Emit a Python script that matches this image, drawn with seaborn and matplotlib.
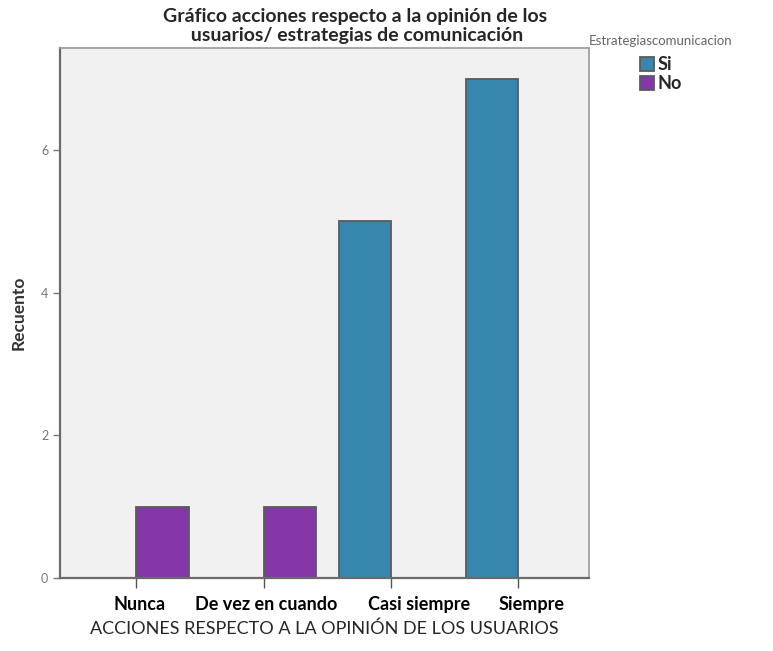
import pandas as pd
import matplotlib.pyplot as plt
import matplotlib.transforms as mtransforms
import seaborn as sns

categorias = ['Nunca', 'De vez en cuando', 'Casi siempre', 'Siempre']
estrategias = ['Si', 'No']
cat_serie = ['Nunca', 'De vez en cuando', 'Casi siempre', 'Siempre']
grupo_serie = ['No', 'No', 'Si', 'Si']
recuento = [1, 1, 5, 7]

df = pd.DataFrame({'accion': cat_serie, 'Estrategiascomunicacion': grupo_serie, 'Recuento': recuento})

sns.set_style('white')
plt.rcParams['font.family'] = ['Lato', 'DejaVu Sans']

fig = plt.figure(figsize=(7.73, 6.51), dpi=100)
ax = fig.add_axes([0.0776, 0.112, 0.685, 0.814])
ax.set_facecolor('#f1f1f1')

sns.barplot(data=df, x='accion', y='Recuento', hue='Estrategiascomunicacion',
            order=categorias, hue_order=estrategias,
            palette={'Si': '#3786ae', 'No': '#8536a9'},
            width=0.82, dodge=True, edgecolor='#5a5a5a', linewidth=1.3,
            saturation=1, ax=ax)

ax.set_xlim(-0.6, 3.56)
ax.set_ylim(0, 7.43)
ax.set_yticks([0, 2, 4, 6])
ax.tick_params(axis='y', colors='#777777', labelsize=9, length=5, width=1, direction='out', left=True)
ax.tick_params(axis='x', colors='#555555', labelcolor='black', labelsize=13, length=7, width=1,
               direction='out', bottom=True, pad=6)
for lbl in ax.get_xticklabels():
    lbl.set_fontweight('bold')

# shift some labels as in the reference so they don't collide
shifts = [3, 3, 28, 13]
for lbl, dx in zip(ax.get_xticklabels(), shifts):
    lbl.set_transform(lbl.get_transform() + mtransforms.ScaledTranslation(dx / 100, 0, fig.dpi_scale_trans))

for side in ['left', 'bottom']:
    ax.spines[side].set_color('#6a6a6a')
    ax.spines[side].set_linewidth(1.6)
for side in ['top', 'right']:
    ax.spines[side].set_color('#9a9a9a')
    ax.spines[side].set_linewidth(1.2)

ax.set_xlabel('ACCIONES RESPECTO A LA OPINIÓN DE LOS USUARIOS', fontsize=13, labelpad=5)
ax.set_ylabel('Recuento', fontsize=12.5, fontweight='bold', color='#333333', labelpad=10)

fig.text(0.459, 0.987, 'Gráfico acciones respecto a la opinión de los\n usuarios/ estrategias de comunicación',
         ha='center', va='top', fontsize=14, fontweight='bold', linespacing=1.1)

handles, labels = ax.get_legend_handles_labels()
leg = ax.legend(handles, labels, title='Estrategiascomunicacion', loc='upper left',
                bbox_to_anchor=(0.762, 0.947), bbox_transform=fig.transFigure,
                frameon=False, handlelength=0.8, handleheight=0.8, handletextpad=0.2,
                labelspacing=0.1, borderaxespad=0, borderpad=0,
                prop={'size': 13, 'weight': 'bold'}, title_fontsize=9.5)
leg.get_title().set_color('#666666')
leg._legend_box.sep = 7

fig.savefig('out.png', dpi=100)
